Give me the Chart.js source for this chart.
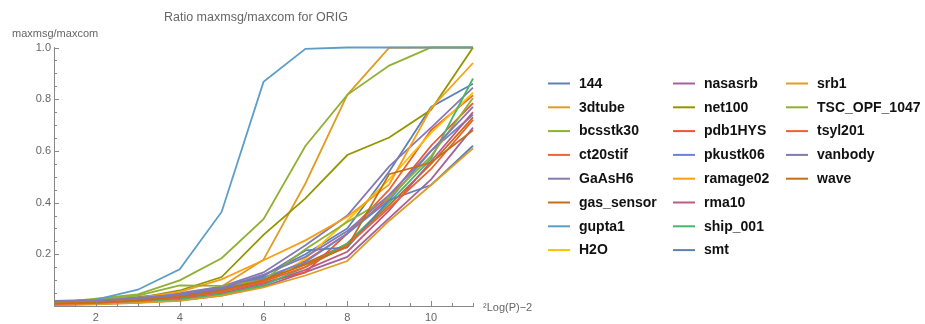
<!DOCTYPE html>
<html><head><meta charset="utf-8">
<script src="https://cdn.jsdelivr.net/npm/chart.js@4/dist/chart.umd.min.js"></script>
<style>html,body{margin:0;padding:0;background:#fff;}#wrap{position:relative;width:925px;height:324px;}</style>
</head><body><div id="wrap"><canvas id="c" width="925" height="324"></canvas></div>
<script>
const xValues = [1,2,3,4,5,6,7,8,9,10,11];
const seriesNames = ['144','3dtube','bcsstk30','ct20stif','GaAsH6','gas_sensor','gupta1','H2O','nasasrb','net100','pdb1HYS','pkustk06','ramage02','rma10','ship_001','smt','srb1','TSC_OPF_1047','tsyl201','vanbody','wave'];
const s144        = [0.015,0.020,0.030,0.045,0.070,0.120,0.200,0.300,0.520,0.770,0.860];
const s3dtube     = [0.008,0.015,0.025,0.045,0.075,0.179,0.474,0.817,0.999,1.000,1.000];
const sBcsstk30   = [0.012,0.028,0.045,0.099,0.185,0.336,0.619,0.817,0.930,1.000,1.000];
const sCt20stif   = [0.008,0.012,0.020,0.035,0.060,0.100,0.175,0.280,0.450,0.680,0.815];
const sGaAsH6     = [0.020,0.024,0.035,0.050,0.075,0.130,0.235,0.350,0.540,0.690,0.845];
const sGasSensor  = [0.010,0.015,0.025,0.040,0.065,0.105,0.165,0.240,0.390,0.550,0.730];
const sGupta1     = [0.015,0.025,0.063,0.142,0.364,0.867,0.995,1.000,1.000,1.000,1.000];
const sH2O        = [0.005,0.008,0.014,0.022,0.042,0.078,0.184,0.330,0.490,0.670,0.825];
const sNasasrb    = [0.004,0.007,0.013,0.022,0.040,0.075,0.131,0.190,0.340,0.490,0.690];
const sNet100     = [0.010,0.020,0.030,0.060,0.112,0.275,0.416,0.584,0.652,0.759,1.000];
const sPdb1HYS    = [0.006,0.010,0.018,0.030,0.055,0.090,0.130,0.280,0.420,0.620,0.785];
const sPkustk06   = [0.012,0.018,0.028,0.042,0.065,0.110,0.170,0.280,0.410,0.600,0.740];
const sRamage02   = [0.008,0.015,0.030,0.055,0.103,0.177,0.254,0.345,0.470,0.765,0.940];
const sRma10      = [0.006,0.010,0.017,0.030,0.050,0.085,0.140,0.210,0.370,0.560,0.750];
const sShip001    = [0.004,0.008,0.015,0.025,0.045,0.080,0.151,0.243,0.400,0.570,0.880];
const sSmt        = [0.014,0.020,0.030,0.045,0.068,0.115,0.215,0.227,0.410,0.468,0.620];
const sSrb1       = [0.004,0.006,0.012,0.020,0.040,0.072,0.118,0.174,0.330,0.468,0.610];
const sTSC        = [0.012,0.022,0.040,0.080,0.078,0.100,0.220,0.325,0.420,0.580,0.805];
const sTsyl201    = [0.007,0.011,0.020,0.033,0.055,0.095,0.150,0.235,0.380,0.530,0.720];
const sVanbody    = [0.018,0.022,0.030,0.045,0.070,0.120,0.190,0.290,0.430,0.600,0.770];
const sWave       = [0.010,0.014,0.022,0.035,0.060,0.100,0.160,0.228,0.510,0.555,0.680];
const seriesValues = [s144,s3dtube,sBcsstk30,sCt20stif,sGaAsH6,sGasSensor,sGupta1,sH2O,sNasasrb,sNet100,sPdb1HYS,sPkustk06,sRamage02,sRma10,sShip001,sSmt,sSrb1,sTSC,sTsyl201,sVanbody,sWave];
const seriesColors = ['#5E81B5','#E09C24','#8FB032','#EB6235','#8778B3','#C56E1A','#5D9EC7','#FFBF00','#A5609D','#929600','#E95536','#6685D9','#F89F13','#BC5B80','#47B66D','#5E81B5','#E09C24','#8FB032','#EB6235','#8778B3','#C56E1A'];
const xTickValues = [2,4,6,8,10];
const yTickValues = [0.2,0.4,0.6,0.8,1.0];
const titleText = 'Ratio maxmsg/maxcom for ORIG';
const yAxisLabel = 'maxmsg/maxcom';
const xAxisLabel = '\u00B2Log(P)\u22122';

const FONT = "'Liberation Sans', Arial, sans-serif";
const AXIS_COLOR = '#888888';
const LABEL_COLOR = '#666666';

const datasets = seriesNames.map((name, i) => ({
  label: name,
  data: xValues.map((x, j) => ({x: x, y: seriesValues[i][j]})),
  borderColor: seriesColors[i],
  backgroundColor: seriesColors[i],
  borderWidth: 1.8,
  pointRadius: 0,
  tension: 0,
  fill: false,
  clip: false,
  order: seriesNames.length - i
}));

const decorPlugin = {
  id: 'decor',
  afterDraw(chart) {
    const ctx = chart.ctx;
    const xs = chart.scales.x, ys = chart.scales.y;
    const x0 = xs.getPixelForValue(1), y0 = ys.getPixelForValue(0);
    ctx.save();
    ctx.strokeStyle = AXIS_COLOR;
    ctx.lineWidth = 1;
    for (let k = 2; k <= 22; k++) {
      const v = k / 2;
      const px = Math.round(xs.getPixelForValue(v)) + 0.5;
      const len = (v % 2 === 0) ? 5 : 3;
      ctx.beginPath(); ctx.moveTo(px, y0); ctx.lineTo(px, y0 - len); ctx.stroke();
    }
    for (let k = 1; k <= 20; k++) {
      const v = k / 20;
      const py = Math.round(ys.getPixelForValue(v)) + 0.5;
      const len = (k % 4 === 0) ? 5 : 3;
      ctx.beginPath(); ctx.moveTo(x0, py); ctx.lineTo(x0 + len, py); ctx.stroke();
    }
    ctx.fillStyle = LABEL_COLOR;
    ctx.textBaseline = 'middle';
    // title
    ctx.font = '12.5px ' + FONT;
    ctx.textAlign = 'center';
    ctx.fillText(titleText, 256, 18);
    // axis labels
    ctx.font = '11px ' + FONT;
    ctx.textAlign = 'left';
    ctx.fillText(yAxisLabel, 12, 34);
    ctx.fillText(xAxisLabel, xs.right + 10, y0 + 2);
    // legend
    const colX = [548, 673, 786];
    ctx.font = 'bold 14px ' + FONT;
    seriesNames.forEach((name, i) => {
      const col = Math.floor(i / 8), row = i % 8;
      const lx = colX[col], ly = 83.5 + row * 23.8;
      ctx.strokeStyle = seriesColors[i];
      ctx.lineWidth = 2;
      ctx.beginPath(); ctx.moveTo(lx, ly); ctx.lineTo(lx + 22, ly); ctx.stroke();
      ctx.fillStyle = '#111111';
      ctx.fillText(name, lx + 31, ly + 0.5);
    });
    ctx.restore();
  }
};

new Chart(document.getElementById('c'), {
  type: 'line',
  data: { datasets },
  options: {
    responsive: false,
    animation: false,
    events: [],
    layout: { padding: { left: 0, right: 452, top: 47.5, bottom: 0 } },
    plugins: {
      legend: { display: false },
      tooltip: { enabled: false },
      title: { display: false }
    },
    scales: {
      x: {
        type: 'linear', min: 1, max: 11,
        afterFit(s) { s.height = 18; },
        afterBuildTicks(s) { s.ticks = xTickValues.map(v => ({ value: v })); },
        grid: { display: false, drawTicks: false },
        border: { display: true, color: AXIS_COLOR, width: 1 },
        ticks: { color: LABEL_COLOR, font: { family: FONT, size: 11 }, padding: 5, maxRotation: 0, autoSkip: false, callback: v => String(v) }
      },
      y: {
        type: 'linear', min: 0, max: 1,
        afterFit(s) { s.width = 54; },
        afterBuildTicks(s) { s.ticks = yTickValues.map(v => ({ value: v })); },
        grid: { display: false, drawTicks: false },
        border: { display: true, color: AXIS_COLOR, width: 1 },
        ticks: { color: LABEL_COLOR, font: { family: FONT, size: 11 }, padding: 3, autoSkip: false, callback: v => Number(v).toFixed(1) }
      }
    }
  },
  plugins: [decorPlugin]
});
</script>
</body></html>
